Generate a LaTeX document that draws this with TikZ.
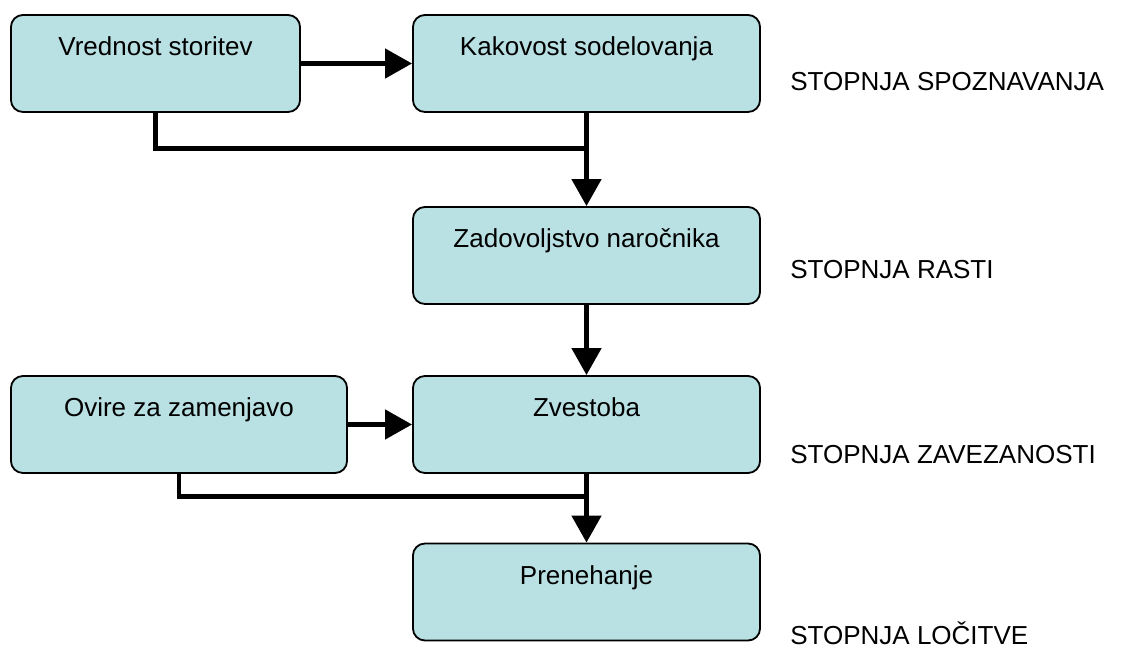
\documentclass[tikz,border=0pt]{standalone}
\usepackage{fontspec}
\setmainfont{Liberation Sans}
\usepackage{xcolor}
\usetikzlibrary{arrows.meta,positioning,calc}

\definecolor{boxfill}{RGB}{185,224,227}

\begin{document}
\begin{tikzpicture}[
  x=0.025cm, y=-0.025cm,
  box/.style={draw, line width=1.3pt, rounded corners=0.3cm, fill=boxfill,
    minimum width=8.675cm, minimum height=2.425cm, inner sep=0pt,
    text height=0.475cm, text depth=0.85cm, align=center,
    font=\fontsize{18.5}{22}\selectfont},
  lab/.style={anchor=west, inner sep=0pt, font=\fontsize{18.5}{22}\selectfont},
  line/.style={line width=0.12cm},
  arrow/.style={line, -{Triangle[length=0.675cm, width=0.725cm]}}
]
\useasboundingbox (0,0) rectangle (1131,648);

% boxes
\node[box, minimum width=7.225cm] (vred) at (155.5,63.5) {Vrednost storitev};
\node[box] (kak) at (586.5,63.5) {Kakovost sodelovanja};
\node[box] (zad) at (586.5,255.5) {Zadovoljstvo naročnika};
\node[box, minimum width=8.4cm] (ovire) at (179,424.5) {Ovire za zamenjavo};
\node[box] (zves) at (586.5,424.5) {Zvestoba};
\node[box] (pren) at (586.5,592) {Prenehanje};

% stages
\node[lab] (s1) at (790,82) {STOPNJA SPOZNAVANJA};
\node[lab] (s2) at (790,270) {STOPNJA RASTI};
\node[lab] (s3) at (790,455) {STOPNJA ZAVEZANOSTI};
\node[lab] (s4) at (790,633) {STOPNJA LOČITVE};

% connectors
\coordinate (j1) at ($(kak.south)!0.38!(zad.north)$);
\coordinate (j2) at ($(zves.south)!0.33!(pren.north)$);
\draw[arrow] (vred) -- (kak);
\draw[line] (vred.south) |- (j1);
\draw[arrow] (kak) -- (zad);
\draw[arrow] (zad) -- (zves);
\draw[arrow] (ovire) -- (zves);
\draw[line] (ovire.south) |- (j2);
\draw[arrow] (zves) -- (pren);
\end{tikzpicture}
\end{document}
